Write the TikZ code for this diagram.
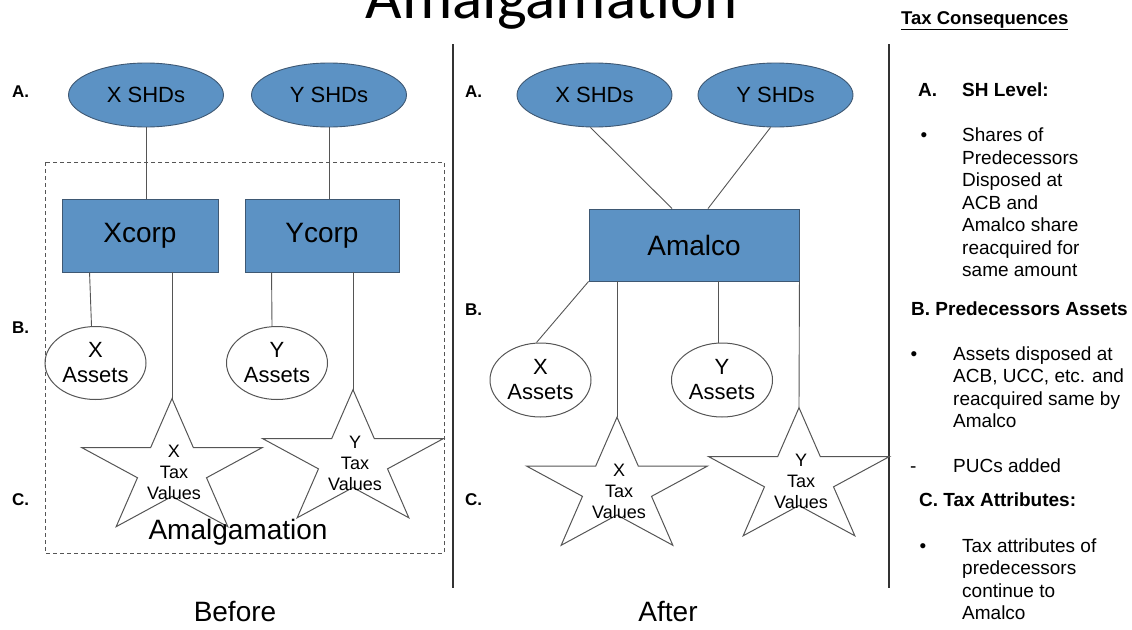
\documentclass[tikz,border=0pt]{standalone}
\usepackage{fontspec}
\setmainfont{Liberation Sans}
\newfontfamily\titlefont{Carlito}
\usetikzlibrary{shapes.geometric}

\definecolor{boxblue}{RGB}{92,146,196}
\definecolor{boxedge}{RGB}{62,88,115}
\definecolor{linegray}{RGB}{85,85,85}

\tikzset{
  shd/.style={ellipse, draw=boxedge, fill=boxblue, line width=0.9pt, minimum width=155pt, minimum height=64pt, inner sep=0pt, font=\fontsize{22}{26}\selectfont},
  corp/.style={rectangle, draw=boxedge, fill=boxblue, line width=0.9pt, minimum height=73pt, inner sep=0pt, font=\fontsize{28}{32}\selectfont},
  asset/.style={ellipse, draw=linegray, line width=1pt, minimum width=101pt, minimum height=73pt, inner sep=0pt, align=center, font=\fontsize{22}{25}\selectfont},
  link/.style={draw=linegray, line width=0.9pt},
  taxstar/.style={draw=linegray, line width=1pt, line join=miter},
  taxtext/.style={align=center, inner sep=0pt, font=\fontsize{18}{21}\selectfont},
  lvl/.style={anchor=base west, inner sep=0pt, font=\fontsize{17}{20}\selectfont\bfseries},
  head/.style={anchor=base west, inner sep=0pt, font=\fontsize{19}{22.5}\selectfont\bfseries},
  note/.style={anchor=base west, inner sep=0pt, align=left, font=\fontsize{19}{22.5}\selectfont},
  caption/.style={anchor=base, inner sep=0pt, font=\fontsize{28}{32}\selectfont}
}

\begin{document}
\begin{tikzpicture}[x=1pt, y=-1pt]
    \useasboundingbox (0,0) rectangle (1132,629);
    \clip (0,0) rectangle (1132,629);

    % Titel oben, halb abgeschnitten
    \node[anchor=base, inner sep=0pt, font=\titlefont\fontsize{63}{70}\selectfont] (title) at (551.5,18) {Amalgamation};

    % Trennlinien
    \draw[line width=1.4pt, black!80] (453,44) -- (453,588);
    \draw[line width=1.4pt, black!80] (889,44) -- (889,588);

    % Vorher: gestrichelter Rahmen
    \draw[linegray, line width=0.9pt, dash pattern=on 4pt off 3pt] (45,162) rectangle (444,553);

    % Sterne fuer die Steuerwerte
    \foreach \nm/\cx/\cy/\lt in {xtaxA/172/469.4/X, ytaxA/353/460.5/Y, xtaxB/617/488/X, ytaxB/799/478.5/Y} {
        \draw[taxstar] ({\cx},{\cy-70.8})
            \foreach \a in {-54,18,90,162} {
                -- ({\cx+36.3*cos(\a)},{\cy+27*sin(\a)})
                -- ({\cx+95*cos(\a+36)},{\cy+70.8*sin(\a+36)})
            }
            -- ({\cx+36.3*cos(234)},{\cy+27*sin(234)}) -- cycle;
        \coordinate (\nm-top) at ({\cx},{\cy-70.8});
        \node[taxtext] (\nm) at ({\cx+2},{\cy+3}) {\lt\\Tax\\Values};
    }

    % Vorher
    \node[shd] (xshdA) at (146,95) {X SHDs};
    \node[shd] (yshdA) at (329,95) {Y SHDs};
    \node[corp, minimum width=156pt] (xcorp) at (140,235.5) {Xcorp};
    \node[corp, minimum width=154pt] (ycorp) at (322,235.5) {Ycorp};
    \node[asset] (xastA) at (95.5,363) {X\\Assets};
    \node[asset] (yastA) at (277,363) {Y\\Assets};

    \draw[link] (xshdA.south) -- (xshdA.south |- xcorp.north);
    \draw[link] (yshdA.south) -- (yshdA.south |- ycorp.north);
    \draw[link] ([xshift=28pt]xcorp.south west) -- ([xshift=-4pt]xastA.north);
    \draw[link] (xtaxA-top |- xcorp.south) -- (xtaxA-top);
    \draw[link] ([xshift=27pt]ycorp.south west) -- ([xshift=-5pt]yastA.north);
    \draw[link] (ytaxA-top |- ycorp.south) -- (ytaxA-top);

    \node[caption] (amalg) at (238,539) {Amalgamation};
    \node[caption] (before) at (235,621.7) {Before};

    % Nachher
    \node[shd] (xshdB) at (594.5,95) {X SHDs};
    \node[shd] (yshdB) at (775.5,95) {Y SHDs};
    \node[corp, minimum width=210pt, minimum height=72pt] (amalco) at (694,245) {Amalco};
    \node[asset, minimum height=74pt] (xastB) at (540.5,380) {X\\Assets};
    \node[asset, minimum height=74pt] (yastB) at (722,380) {Y\\Assets};

    \draw[link] ([xshift=-4pt]xshdB.south) -- ([xshift=-22pt]amalco.north);
    \draw[link] ([xshift=-5pt]yshdB.south) -- ([xshift=14pt]amalco.north);
    \draw[link] (amalco.south west) -- ([xshift=-4pt]xastB.north);
    \draw[link] (xtaxB-top |- amalco.south) -- (xtaxB-top);
    \draw[link] ([xshift=-4pt]yastB.north |- amalco.south) -- ([xshift=-4pt]yastB.north);
    \draw[link] (amalco.south east) -- (ytaxB-top);

    \node[caption] (after) at (668,621.7) {After};

    % Ebenen A, B, C
    \node[lvl] (laA) at (12,97) {A.};
    \node[lvl] (lbA) at (12,333) {B.};
    \node[lvl] (lcA) at (12,505) {C.};
    \node[lvl] (laB) at (465,97) {A.};
    \node[lvl] (lbB) at (465,315) {B.};
    \node[lvl] (lcB) at (465,505) {C.};

    % Steuerfolgen (Basislinie = letzte Zeile)
    \node[head, font=\fontsize{18.5}{22}\selectfont\bfseries] (taxhead) at (901,24) {\underline{Tax Consequences}};
    \node[head] (shA) at (918,96.7) {A.};
    \node[head] (shlevel) at (962,96.7) {SH Level:};
    \node[note, anchor=base] (bulA) at (924,141.7) {•};
    \node[note] (shtext) at (962,276.7) {Shares of\\Predecessors\\Disposed at\\ACB and\\Amalco share\\reacquired for\\same amount};
    \node[head] (predhead) at (911,315) {B. Predecessors Assets};
    \node[note, anchor=base] (bulB) at (914,360) {•};
    \node[note] (predtext) at (953,427.5) {Assets disposed at\\ACB, UCC, etc. and\\reacquired same by\\Amalco};
    \node[note] (dashB) at (910,472) {-};
    \node[note] (puc) at (953,472) {PUCs added};
    \node[head] (attrhead) at (919,506) {C. Tax Attributes:};
    \node[note, anchor=base] (bulC) at (923,552) {•};
    \node[note] (attrtext) at (962,619.5) {Tax attributes of\\predecessors\\continue to\\Amalco};
\end{tikzpicture}
\end{document}
